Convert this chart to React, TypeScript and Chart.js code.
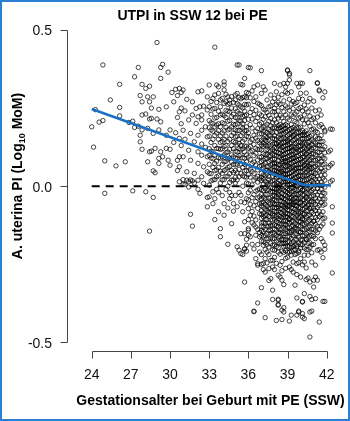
import React, { useEffect, useRef } from 'react';
import { Chart, registerables } from 'chart.js';

Chart.register(...registerables);

const titleText = 'UTPI in SSW 12 bei PE';
const xTitle = 'Gestationsalter bei Geburt mit PE (SSW)';
const yTitleMain = 'A. uterina PI (Log';
const yTitleSub = '10';
const yTitleEnd = ' MoM)';
const xTicks = [24, 27, 30, 33, 36, 39, 42];
const yTicks = [-0.5, 0, 0.5];
const yTickLabels = ['-0.5', '0.0', '0.5'];

// regression line and reference line
const fitWeeks = [24, 40.3, 42.3];
const fitValues = [0.247, 0.003, 0.003];
const refWeeks = [24, 42.3];
const refValues = [0, 0];

// PI values (log10 MoM) per completed week; row index = extra days (0..6)
const w24 = [[.19], [.125], [.245], [], [.205], [], [.21, .388]];
const w25 = [[.081, -.023], [], [], [.276], [], [], [.065]];
const w26 = [[], [.326, .252, .225], [], [], [.078], [], [.204]];
const w27 = [[], [.208, -.015], [.188, .35], [], [.38, .192], [.29, .163, .142], [.326, .27, .228, .118, .18]];
const w28 = [[], [.313, .231, -.018], [.286, .185, .078], [.32, .27, .215, .11, -.144], [.217, .112, .25], [.169, .049, -.036, .286], [.043, .121]];
const w29 = [[.46, .215], [.246, .18, .073, .089], [.38, .345, .206, .11], [.39, .094], [], [.254, .163, .121], [.365, .083]];
const w30 = [[.18, .118, .067], [.3], [.27, .14], [.171, .31], [.22, .083, .29, .05], [.094, .014, .313, .238, .153, .062], [.3, .25, .2, .13]];
const w31 = [[.308, .179, .094, .021, .006], [.241, .15, .005], [.046, .278, .019], [.212, .115, .014, -.003], [.169, .083, -.09, .02], [.27, .228, -.128, .017], [.142, .041, .01]];
const w32 = [[.201, .249], [.302, .222, .163, .11, .073, .019, -.01], [.254, -.023], [.305, .212, .135, .099, .228, .179, .03], [.256, .062, .009], [.19, .124], [.244, .158, .094, .046, -.036, -.066, .286]];
const w33 = [
  [.324, .254, .21, .16, .12, .07, .003, -.034, .187, .098, .041],
  [.23, .18, .14, .09, .04, .271, .203, .112, .017],
  [.281, .2, .15, .11, .06, .02, -.056, .247, .176, .088, -.018],
  [.445, .292, .249, .19, .13, .1, .05, -.04, -.107, .218, .162, .073, .021],
  [.324, .22, .17, .08, .03, -.01, .268, .196, .121, .052],
  [.318, .297, .24, .2, .15, .12, .06, -.082, -.02, .178, .091, .033],
  [.276, .254, .19, .14, .09, .01, -.136, -.162, .228, .161, .118, .048],
];
const w34 = [
  [.23, .17, .12, .07, .02, -.03, .281, .203, .143, .094, .041],
  [.334, .324, .308, .265, .2, .15, .1, .05, -.056, -.093, .226, .177, .127, .078, .021],
  [.27, .22, .16, .13, .08, .03, -.01, .294, .243, .189, .107, .054],
  [.286, .24, .18, .11, .06, .0, -.186, -.07, .262, .208, .143, .087, .032],
  [.276, .265, .21, .15, .09, .04, -.04, -.02, .238, .183, .118, .063, .012],
  [.25, .19, .13, .1, .05, -.12, -.03, .287, .223, .162, .078, .019],
  [.23, .17, .12, .07, .02, -.056, -.08, .268, .198, .143, .094, .044],
];
const w35 = [
  [.292, .276, .22, .18, .14, .09, .05, .01, -.03, .248, .197, .158, .112, .068, .028],
  [.388, .297, .24, .2, .16, .11, .07, .02, -.066, -.194, .264, .218, .178, .132, .089, .043],
  [.388, .26, .21, .15, .12, .08, .03, -.02, -.205, .284, .233, .178, .137, .098, .054],
  [.326, .28, .23, .19, .13, .1, .04, -.05, -.029, -.152, -.216, .254, .208, .162, .117, .071],
  [.324, .25, .2, .17, .12, .06, .0, -.082, -.219, .284, .223, .186, .143, .091, .033],
  [.345, .286, .24, .21, .15, .11, .07, .03, -.053, -.114, -.152, -.202, -.2, -.307, .262, .226, .177, .128, .089, .049],
  [.3, .26, .19, .16, .1, .05, .01, -.04, -.17, -.208, -.189, .283, .228, .178, .128, .078, .029],
];
const w36 = [
  [.38, .297, .262, .214, .171, .158, .122, .093, .061, .037, .008, -.021, -.044, -.107, -.136, -.141, -.157, -.072],
  [.379, .283, .236, .197, .142, .127, .086, .054, .029, -.013, -.058, -.162, -.094, .11],
  [.305, .248, .186, .149, .113, .072, .047, .004, -.037, -.081, -.117, -.186, .215],
  [.318, .271, .229, .163, .134, .098, .041, .019, -.027, -.063, -.124, -.4, -.402, -.201, .077, -.096],
  [.286, .243, .207, .176, .121, .105, .068, .026, -.016, -.049, -.108, -.157, -.131, -.232, .154],
  [.324, .266, .219, .184, .146, .117, .084, .052, .013, -.038, -.071, -.139, -.248, -.374, -.253, -.187, .031, -.012],
  [.262, .231, .198, .167, .139, .093, .064, .023, -.009, -.056, -.088, -.162, -.211, -.148, .118, -.034],
];
const w37 = [
  [.37, .297, .258, .226, .203, .168, .147, .116, .094, .066, .041, .018, -.011, -.027, -.054, -.079, -.103, -.118, -.142, -.176, -.25, -.325, -.219, .183, -.062],
  [.318, .247, .214, .189, .153, .128, .083, .059, .024, .007, -.035, -.067, -.098, -.131, -.189, -.248, -.267, -.161, .104, -.014, -.086],
  [.308, .244, .222, .176, .159, .132, .101, .074, .033, -.008, -.041, -.058, -.093, -.119, -.158, -.203, -.275, -.421, -.232, .051, -.139, .193],
  [.276, .236, .198, .172, .144, .117, .088, .063, .038, .004, -.026, -.048, -.077, -.107, -.152, -.211, -.246, -.187, .156, -.064, .012],
  [.254, .227, .208, .181, .148, .113, .079, .047, .021, -.012, -.039, -.071, -.097, -.143, -.168, -.264, -.219, -.302, .132, .006, -.118],
  [.292, .257, .217, .193, .161, .129, .097, .068, .043, .014, -.018, -.057, -.087, -.126, -.296, -.183, -.238, .084, -.036, -.151],
  [.27, .238, .203, .171, .134, .103, .071, .049, .017, -.007, -.031, -.068, -.109, -.149, -.189, -.237, -.259, -.333, -.363, -.204, .153, -.044, -.088],
];
const w38 = [
  [.329, .238, .281, .249, .212, .187, .163, .138, .112, .087, .063, .038, .019, -.008, -.029, -.058, -.081, -.106, -.137, -.168, -.205, -.267, -.228, .071, -.044, -.124],
  [.302, .261, .227, .203, .172, .149, .121, .097, .074, .048, .027, .002, -.021, -.047, -.069, -.098, -.127, -.158, -.193, -.43, -.247, .136, -.083, .011],
  [.285, .268, .241, .218, .183, .157, .128, .107, .081, .057, .031, .009, -.018, -.038, -.066, -.092, -.117, -.148, -.181, -.211, -.285, -.362, -.381, -.365, -.379, .047, -.058, -.131],
  [.324, .262, .226, .198, .176, .152, .118, .093, .068, .042, .018, -.013, -.034, -.061, -.084, -.108, -.139, -.162, -.253, -.291, -.218, .134, .003, -.097],
  [.293, .252, .219, .192, .168, .137, .113, .087, .059, .034, .012, -.022, -.049, -.073, -.101, -.121, -.153, -.184, -.271, -.301, -.427, -.397, -.241, .078, -.036, -.169],
  [.329, .273, .238, .207, .183, .154, .127, .102, .078, .053, .024, .004, -.027, -.052, -.079, -.113, -.134, -.172, -.194, -.315, -.403, -.389, -.212, .041, -.092, .193],
  [.318, .302, .257, .228, .197, .173, .141, .118, .091, .062, .037, .013, -.017, -.042, -.071, -.098, -.123, -.152, -.207, -.263, -.231, .081, -.061, -.183],
];
const w39 = [
  [.372, .37, .329, .297, .251, .218, .193, .161, .133, .108, .079, .052, .028, .003, -.021, -.048, -.077, -.099, -.131, -.162, -.193, -.228, .142, -.066, .018],
  [.361, .356, .34, .278, .243, .212, .181, .153, .121, .097, .073, .041, .017, -.013, -.038, -.062, -.091, -.118, -.148, -.211, -.259, -.432, -.178, .063, -.107],
  [.302, .263, .228, .197, .171, .139, .113, .088, .058, .031, .008, -.019, -.051, -.068, -.098, -.129, -.167, -.221, -.267, -.413, -.197, .122, -.037, -.143],
  [.271, .248, .223, .188, .163, .128, .102, .077, .048, .022, -.003, -.029, -.058, -.083, -.112, -.141, -.178, -.243, -.275, -.204, .093, -.052, .161],
  [.265, .231, .207, .183, .149, .124, .091, .068, .039, .016, -.011, -.038, -.062, -.087, -.118, -.153, -.188, -.219, -.317, .057, -.133, .012],
  [.329, .268, .238, .203, .172, .141, .108, .083, .057, .028, .002, -.027, -.048, -.081, -.109, -.138, -.171, -.216, -.283, -.358, -.413, -.248, .118, -.063, -.194],
  [.318, .281, .248, .218, .187, .158, .127, .098, .071, .047, .019, -.011, -.041, -.068, -.102, -.127, -.163, -.245, -.403, -.4, -.207, .031, -.088],
];
const w40 = [
  [.33, .297, .252, .221, .189, .162, .128, .103, .071, .046, .021, -.008, -.037, -.069, -.097, -.128, -.171, -.232, -.291, -.198, .087, -.052, -.147],
  [.329, .278, .241, .213, .178, .152, .118, .092, .061, .032, .004, -.028, -.061, -.088, -.121, -.158, -.188, -.419, -.408, -.369, -.371, -.252, .137, -.013, -.104],
  [.26, .228, .199, .172, .138, .109, .082, .053, .019, -.012, -.043, -.072, -.108, -.139, -.181, -.243, -.344, -.424, -.221, .067, -.089, .163],
  [.298, .247, .212, .177, .152, .118, .087, .058, .033, .008, -.021, -.053, -.079, -.117, -.152, -.203, -.299, -.262, .104, -.036, -.171],
  [.27, .238, .203, .168, .141, .108, .078, .052, .023, -.009, -.041, -.078, -.113, -.221, -.294, -.183, -.148, .128, -.061],
  [.37, .281, .224, .192, .159, .127, .098, .071, .043, .012, -.018, -.051, -.092, -.128, -.307, -.353, -.483, -.403, -.197, -.162, .062, -.072],
  [.25, .213, .181, .148, .118, .091, .057, .031, .002, -.032, -.068, -.101, -.138, -.243, -.363, -.4, -.188, .163, -.049],
];
const w41 = [
  [.272, .218, .183, .142, .104, .061, .028, -.009, -.052, -.089, -.138, -.301, -.323, -.187, -.112],
  [.241, .203, .158, .121, .083, .041, .004, -.038, -.078, -.122, -.291, -.36, -.253, -.168, .176],
  [.331, .329, .221, .172, .131, .087, .052, .013, -.028, -.068, -.107, -.205, -.301, -.149],
  [.305, .308, .244, .192, .153, .108, .071, .023, -.018, -.062, -.098, -.435, -.203, .131],
  [.228, .197, .162, .117, .078, .034, -.011, -.053, -.211, -.128, .142],
  [.283, .188, .143, .091, .048, .003, -.041, -.082, -.178, -.229, -.369, -.121],
  [.302, .179, .174, .126, .088, .051, .019, -.023, -.189, -.202, -.369, -.058],
];
const w42 = [[], [.11, .06], [.115, .014, .183, .067], [.182, .073, .019, -.066, -.118, -.15, -.278], [], [], []];

// additional values in the dense core of the cloud (weeks 37-41)
const c37 = [
  [.132, .078, .029, -.041, -.091, -.128, -.158],
  [.176, .138, .068, .036, -.051, -.116, -.145, -.178],
  [.147, .088, .016, -.027, -.073, -.106, -.182],
  [.128, .102, .051, -.013, -.092, -.128, -.168],
  [.163, .096, .062, .031, -.054, -.083, -.128, -.195],
  [.177, .112, .053, -.004, -.071, -.108, -.142, -.166],
  [.186, .117, .087, .032, -.018, -.052, -.093, -.127, -.168],
];
const c38 = [
  [.151, .124, .099, .074, .051, .007, -.018, -.069, -.093, -.152, -.188],
  [.186, .136, .109, .061, .037, -.011, -.034, -.058, -.113, -.141, -.176],
  [.194, .141, .094, .069, .043, -.006, -.027, -.079, -.104, -.163, -.197],
  [.187, .164, .129, .105, .054, .029, -.003, -.047, -.072, -.121, -.149, -.184],
  [.178, .152, .125, .098, .072, .047, -.009, -.036, -.061, -.087, -.137, -.171, -.208],
  [.168, .141, .113, .091, .066, .038, .014, -.013, -.041, -.066, -.098, -.121, -.153, -.183],
  [.185, .152, .129, .105, .076, .049, .025, -.004, -.029, -.057, -.086, -.111, -.138, -.171, -.192],
];
const c39 = [
  [.177, .147, .121, .093, .066, .039, .014, -.009, -.034, -.062, -.088, -.114, -.146, -.178, -.211],
  [.166, .137, .109, .084, .057, .029, .004, -.026, -.051, -.078, -.104, -.133, -.162, -.193],
  [.184, .156, .126, .101, .073, .044, .019, -.007, -.035, -.059, -.083, -.113, -.148, -.184, -.208],
  [.176, .146, .114, .089, .062, .036, .011, -.016, -.043, -.071, -.097, -.127, -.159, -.193],
  [.166, .137, .108, .079, .053, .027, .003, -.025, -.051, -.074, -.102, -.136, -.171, -.203],
  [.187, .156, .124, .096, .069, .043, .014, -.013, -.038, -.064, -.094, -.123, -.154, -.188],
  [.171, .142, .113, .085, .058, .033, .006, -.026, -.054, -.083, -.114, -.146, -.181, -.212],
];
const c40 = [
  [.173, .141, .116, .087, .058, .034, .007, -.022, -.053, -.083, -.113, -.148, -.187],
  [.164, .132, .104, .076, .047, .018, -.013, -.044, -.074, -.106, -.139, -.173],
  [.153, .123, .094, .067, .036, .004, -.028, -.057, -.091, -.123, -.159, -.198],
  [.166, .134, .102, .073, .045, .021, -.006, -.037, -.066, -.098, -.134, -.169],
  [.154, .123, .093, .064, .037, .008, -.024, -.058, -.094, -.131, -.166, -.203],
  [.143, .112, .084, .057, .027, -.003, -.034, -.071, -.109, -.146, -.181],
  [.133, .104, .073, .044, .017, -.014, -.049, -.084, -.119, -.158, -.213],
];
const c41 = [
  [.123, .083, .045, .011, -.031, -.071, -.113, -.161],
  [.138, .101, .063, .022, -.018, -.058, -.101, -.143],
  [.152, .109, .069, .032, -.008, -.048, -.088, -.128],
  [.131, .089, .048, .004, -.041, -.081, -.138],
  [.098, .056, .013, -.031, -.092, -.168],
  [.118, .069, .026, -.021, -.061, -.104],
  [.107, .071, .036, -.003, -.041, -.102],
];

const weekNumbers = [24, 25, 26, 27, 28, 29, 30, 31, 32, 33, 34, 35, 36, 37, 38, 39, 40, 41, 42];
const weekData = [w24, w25, w26, w27, w28, w29, w30, w31, w32, w33, w34, w35, w36, w37, w38, w39, w40, w41, w42];
const coreWeeks = [37, 38, 39, 40, 41];
const coreData = [c37, c38, c39, c40, c41];

const FONT = '"Liberation Sans", Arial, Helvetica, sans-serif';

function buildPoints() {
  const pts: { x: number; y: number }[] = [];
  const add = (weeks: number[], data: number[][][]) => {
    weeks.forEach((wk, i) => {
      data[i].forEach((row, d) => {
        row.forEach((v) => pts.push({ x: wk + d / 7, y: v }));
      });
    });
  };
  add(weekNumbers, weekData);
  add(coreWeeks, coreData);
  return pts;
}

const decorPlugin = {
  id: 'decor',
  beforeDraw(chart: any) {
    const ctx = chart.ctx;
    ctx.save();
    ctx.fillStyle = '#ffffff';
    ctx.fillRect(0, 0, chart.width, chart.height);
    ctx.restore();
  },
  afterDraw(chart: any) {
    const ctx = chart.ctx;
    const xs = chart.scales.x;
    const ys = chart.scales.y;
    ctx.save();
    ctx.strokeStyle = '#444';
    ctx.lineWidth = 1;
    const axX = 67.5;
    const y0 = ys.getPixelForValue(yTicks[yTicks.length - 1]);
    const y1 = ys.getPixelForValue(yTicks[0]);
    ctx.beginPath();
    ctx.moveTo(axX, Math.round(y0) + 0.5);
    ctx.lineTo(axX, Math.round(y1) + 0.5);
    yTicks.forEach((t) => {
      const py = Math.round(ys.getPixelForValue(t)) + 0.5;
      ctx.moveTo(axX, py);
      ctx.lineTo(axX - 7, py);
    });
    const axY = 351.5;
    const x0 = Math.round(xs.getPixelForValue(xTicks[0])) + 0.5;
    const x1 = Math.round(xs.getPixelForValue(xTicks[xTicks.length - 1])) + 0.5;
    ctx.moveTo(x0, axY);
    ctx.lineTo(x1, axY);
    xTicks.forEach((t) => {
      const px = Math.round(xs.getPixelForValue(t)) + 0.5;
      ctx.moveTo(px, axY);
      ctx.lineTo(px, axY + 7);
    });
    ctx.stroke();

    ctx.fillStyle = '#111';
    ctx.font = `14px ${FONT}`;
    ctx.textBaseline = 'alphabetic';
    ctx.textAlign = 'right';
    yTicks.forEach((t, i) => {
      ctx.fillText(yTickLabels[i], 52, ys.getPixelForValue(t) + 5.5);
    });
    ctx.textAlign = 'center';
    xTicks.forEach((t) => {
      ctx.fillText(String(t), xs.getPixelForValue(t), 379);
    });

    ctx.fillStyle = '#000';
    ctx.font = `bold 14px ${FONT}`;
    ctx.fillText(titleText, 192.5, 19.5);
    ctx.fillText(xTitle, 210.5, 405);

    ctx.save();
    ctx.translate(21.5, 176);
    ctx.rotate(-Math.PI / 2);
    ctx.textAlign = 'left';
    const mainFont = `bold 14px ${FONT}`;
    const subFont = `bold 9px ${FONT}`;
    ctx.font = mainFont;
    const wMain = ctx.measureText(yTitleMain).width;
    const wEnd = ctx.measureText(yTitleEnd).width;
    ctx.font = subFont;
    const wSub = ctx.measureText(yTitleSub).width;
    const total = wMain + wSub + wEnd;
    let cx = -total / 2;
    ctx.font = mainFont;
    ctx.fillText(yTitleMain, cx, 0);
    cx += wMain;
    ctx.font = subFont;
    ctx.fillText(yTitleSub, cx, 3);
    cx += wSub;
    ctx.font = mainFont;
    ctx.fillText(yTitleEnd, cx, 0);
    ctx.restore();

    ctx.strokeStyle = '#2a7fd3';
    ctx.lineWidth = 2;
    ctx.strokeRect(1, 1, chart.width - 2, chart.height - 2);
    ctx.restore();
  },
};

export default function App() {
  const canvasRef = useRef<HTMLCanvasElement | null>(null);

  useEffect(() => {
    if (!canvasRef.current) return;
    const points = buildPoints();
    const fit = fitWeeks.map((w, i) => ({ x: w, y: fitValues[i] }));
    const ref = refWeeks.map((w, i) => ({ x: w, y: refValues[i] }));
    const chart = new Chart(canvasRef.current, {
      type: 'scatter',
      data: {
        datasets: [
          {
            data: fit,
            showLine: true,
            borderColor: '#1a70c4',
            borderWidth: 2.5,
            pointRadius: 0,
            order: 1,
          },
          {
            data: ref,
            showLine: true,
            borderColor: '#000000',
            borderWidth: 2,
            borderDash: [8, 6],
            pointRadius: 0,
            order: 2,
          },
          {
            data: points,
            showLine: false,
            pointStyle: 'circle',
            pointRadius: 2.2,
            pointBorderWidth: 0.85,
            pointBorderColor: 'rgba(0,0,0,0.85)',
            pointBackgroundColor: 'rgba(0,0,0,0)',
            borderColor: 'rgba(0,0,0,0.85)',
            backgroundColor: 'rgba(0,0,0,0)',
            order: 3,
          },
        ],
      },
      options: {
        responsive: false,
        animation: false,
        devicePixelRatio: 1,
        events: [],
        layout: { padding: { left: 67.7, right: 10, top: 18, bottom: 69.3 } },
        scales: {
          x: { type: 'linear', min: 22.162, max: 43.019, display: false },
          y: { type: 'linear', min: -0.530, max: 0.5384, display: false },
        },
        plugins: {
          legend: { display: false },
          tooltip: { enabled: false },
          title: { display: false },
        },
      },
      plugins: [decorPlugin],
    });
    return () => chart.destroy();
  }, []);

  return (
    <div style={{ position: 'absolute', left: 0, top: 0, width: 350, height: 421 }}>
      <canvas ref={canvasRef} width={350} height={421} style={{ display: 'block' }} />
    </div>
  );
}
